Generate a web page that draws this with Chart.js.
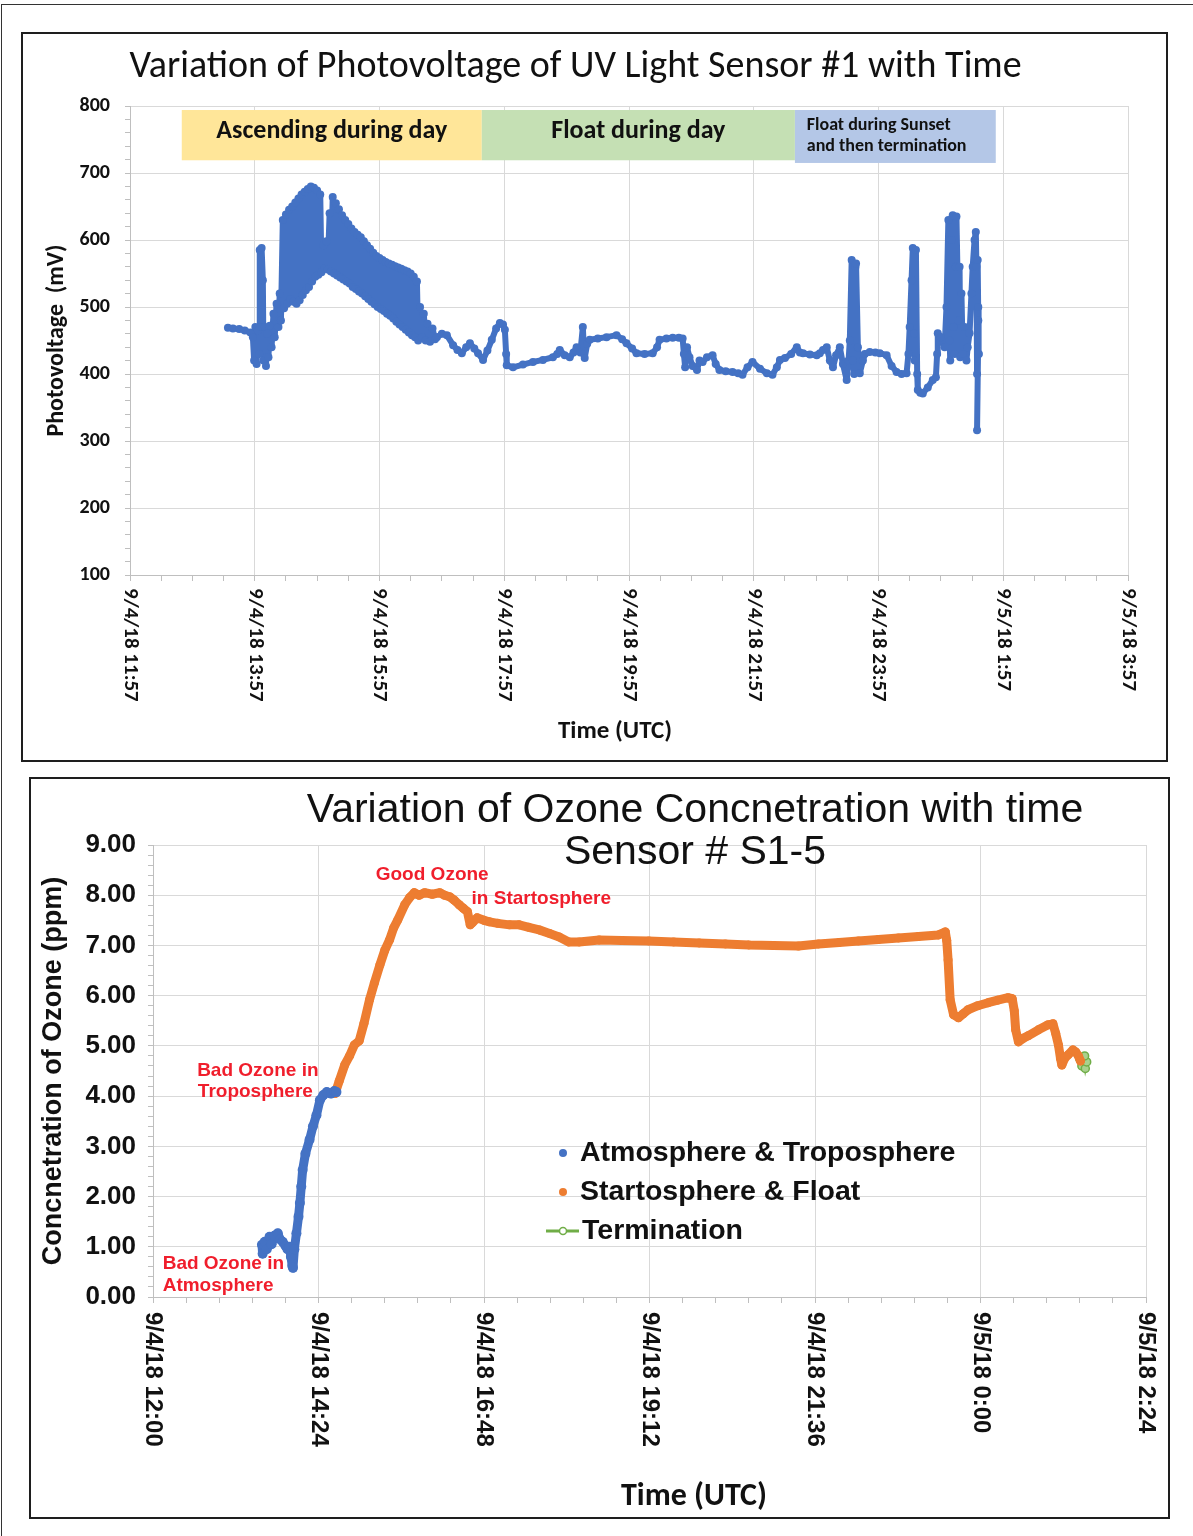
<!DOCTYPE html>
<html>
<head>
<meta charset="utf-8">
<title>UV photovoltage and ozone concentration</title>
<script src="https://cdn.jsdelivr.net/npm/chart.js@4.4.1/dist/chart.umd.min.js"></script>
<style>
body { margin: 0; width: 1193px; height: 1536px; background: #fff; position: relative; overflow: hidden; }
.sheet { position: absolute; left: 1px; top: 4px; right: 0; bottom: 0; border-top: 1px solid #333; border-left: 1px solid #333; }
.panel { position: absolute; border: 2px solid #1e1e1e; background: #fff; }
#panel1 { left: 21px; top: 32px; }
#panel2 { left: 29px; top: 777px; }
canvas { display: block; }
</style>
</head>
<body>
<div class="sheet"></div>
<div class="panel" id="panel1"><canvas id="pvChart" width="1143" height="726"></canvas></div>
<div class="panel" id="panel2"><canvas id="ozoneChart" width="1137" height="738"></canvas></div>
<script>
// ---- data: UV sensor #1 (time in hours of 9/4, values in mV) ----
var pvHours = [
    13.52, 13.60, 13.70, 13.79, 13.88, 13.92,
    13.94, 13.96, 13.98, 14.00, 14.02, 14.03, 14.05, 14.06, 14.08, 14.09, 14.11, 14.13, 14.15, 14.17, 14.19,
    14.22, 14.25, 14.27, 14.30, 14.33, 14.35, 14.37,
    14.40, 14.42, 14.45, 14.47, 14.50, 14.52, 14.55, 14.57, 14.60, 14.62, 14.65, 14.67, 14.70, 14.72, 14.75, 14.77, 14.80, 14.82, 14.85, 14.87,
    14.90, 14.92, 14.95, 14.97, 15.00, 15.02, 15.05, 15.07, 15.10, 15.12, 15.15, 15.17, 15.20, 15.22, 15.25, 15.27, 15.30, 15.32, 15.35, 15.37,
    15.40, 15.42, 15.45, 15.47, 15.50, 15.52, 15.55, 15.57, 15.60, 15.62, 15.65, 15.67, 15.70, 15.72, 15.75, 15.77, 15.80, 15.82, 15.85, 15.87,
    15.90, 15.92, 15.95, 15.97, 16.00, 16.02, 16.05, 16.07, 16.10, 16.12, 16.15, 16.17, 16.20, 16.22, 16.25, 16.27, 16.30, 16.32, 16.35, 16.37,
    16.40, 16.42, 16.45, 16.47, 16.50, 16.52, 16.55, 16.57,
    16.60, 16.63, 16.66, 16.69, 16.72, 16.76, 16.80, 16.84, 16.87, 16.95,
    17.03, 17.13, 17.20, 17.27, 17.34, 17.40, 17.47, 17.53, 17.61, 17.68,
    17.75, 17.82, 17.88, 17.93, 17.96, 17.98, 17.99, 18.09, 18.25, 18.41,
    18.57, 18.73, 18.80, 18.84, 18.92, 19.00, 19.06, 19.11, 19.17, 19.21,
    19.23, 19.24, 19.28, 19.32, 19.45, 19.59, 19.75, 19.84, 19.91, 20.00,
    20.07, 20.20, 20.33, 20.40, 20.44, 20.55, 20.65, 20.75, 20.81, 20.83,
    20.85, 20.88, 20.92, 20.97, 21.04, 21.08, 21.13, 21.20, 21.29, 21.34,
    21.40, 21.50, 21.61, 21.70, 21.77, 21.85, 21.93, 22.05, 22.16, 22.25,
    22.32, 22.37, 22.45, 22.55, 22.64, 22.69, 22.74, 22.85, 22.96, 23.01,
    23.06, 23.12, 23.17, 23.22, 23.27, 23.33, 23.38, 23.44, 23.47, 23.49,
    23.52, 23.54, 23.56, 23.58, 23.59, 23.62, 23.65, 23.70, 23.73, 23.81,
    23.90, 23.97, 24.08, 24.16, 24.24, 24.32, 24.40, 24.43, 24.45, 24.48,
    24.50, 24.52, 24.53, 24.55, 24.57, 24.58, 24.62, 24.66, 24.74, 24.82,
    24.87, 24.89, 24.90, 24.95, 25.01, 25.04, 25.07, 25.09, 25.10, 25.12,
    25.14, 25.15, 25.17, 25.19, 25.20, 25.23, 25.25, 25.26, 25.28, 25.30,
    25.33, 25.36, 25.38, 25.41, 25.44, 25.46, 25.49, 25.51, 25.52, 25.53,
    25.54, 25.55, 25.56, 25.55, 25.53
];
var pvMillivolts = [
    469, 468, 467, 465, 462, 455,
    420, 470, 415, 465, 430, 585, 470, 588, 540, 420, 470, 412, 460, 425, 472,
    440, 490, 455, 505, 470, 520, 480,
    630, 498, 638, 505, 645, 512, 650, 508, 656, 505, 662, 510, 668, 518, 672, 525, 676, 530, 680, 538,
    678, 545, 674, 548, 668, 552, 592, 558, 598, 556, 640, 553, 664, 550, 655, 547, 646, 544, 637, 541,
    630, 538, 624, 535, 617, 530, 612, 527, 608, 523, 604, 520, 598, 516, 592, 512, 587, 508, 581, 504,
    576, 500, 573, 497, 570, 494, 567, 490, 565, 487, 563, 483, 561, 478, 559, 474, 557, 470, 555, 466,
    553, 462, 550, 458, 545, 455, 538, 450,
    500, 455, 490, 450, 475, 448, 468, 452, 455, 460,
    458, 443, 436, 431, 440, 446, 438, 431, 421, 435,
    451, 468, 476, 474, 466, 430, 413, 410, 414, 418,
    421, 425, 430, 436, 428, 425, 432, 440, 432, 470,
    430, 424, 445, 451, 453, 455, 458, 452, 446, 438,
    431, 430, 431, 440, 451, 453, 454, 454, 453, 430,
    410, 440, 425, 412, 406, 420, 418, 425, 428, 415,
    406, 404, 403, 401, 399, 410, 418, 408, 401, 399,
    410, 421, 424, 430, 440, 432, 431, 429, 428, 431,
    436, 440, 420, 410, 428, 440, 415, 391, 420, 450,
    570, 420, 400, 560, 565, 440, 401, 420, 430, 433,
    432, 431, 428, 412, 403, 400, 401, 430, 470, 540,
    588, 460, 420, 585, 400, 376, 372, 371, 380, 391,
    395, 430, 461, 455, 440, 500, 630, 450, 420, 600,
    637, 470, 430, 560, 635, 480, 560, 425, 520, 430,
    470, 420, 440, 461, 520, 560, 600, 612, 560, 400,
    570, 480, 430, 500, 316
];
var pvTimeLabels = ['9/4/18 11:57', '9/4/18 13:57', '9/4/18 15:57', '9/4/18 17:57', '9/4/18 19:57',
    '9/4/18 21:57', '9/4/18 23:57', '9/5/18 1:57', '9/5/18 3:57'];
var phaseNames = ['Ascending during day', 'Float during day', 'Float during Sunset\nand then termination'];
var phaseStart = [12.78, 17.59, 22.61];
var phaseEnd = [17.59, 22.61, 25.83];

// ---- data: ozone sensor S1-5 (time in hours of 9/4, values in ppm) ----
var atmHours = [13.58, 13.59, 13.62, 13.65, 13.69, 13.72, 13.76, 13.81, 13.84, 13.88,
    13.92, 13.95, 13.98, 14.00, 14.02, 14.03, 14.05, 14.08, 14.11, 14.13,
    14.15, 14.17, 14.21, 14.27, 14.32, 14.37, 14.42, 14.47, 14.52, 14.58, 14.63, 14.66];
var atmPpm = [1.04, 0.86, 1.10, 0.95, 1.20, 1.05, 1.22, 1.27, 1.15, 1.10,
    1.02, 0.95, 1.00, 0.80, 0.62, 0.58, 0.95, 1.27, 1.60, 1.87,
    2.20, 2.53, 2.85, 3.13, 3.40, 3.62, 3.92, 4.02, 4.08, 4.05, 4.10, 4.08];
var stratHours = [14.64, 14.70, 14.78, 14.85, 14.92, 14.99, 15.06, 15.14, 15.21, 15.29,
    15.36, 15.43, 15.49, 15.55, 15.65, 15.72, 15.79, 15.86, 15.94, 16.05,
    16.16, 16.23, 16.30, 16.37, 16.44, 16.50, 16.56, 16.60, 16.63, 16.70,
    16.80, 16.88, 17.00, 17.17, 17.31, 17.45, 17.60, 17.75, 17.89, 18.03,
    18.18, 18.47, 18.80, 19.19, 19.55, 19.92, 20.30, 20.64, 21.00, 21.36,
    21.65, 21.95, 22.23, 22.52, 22.81, 23.10, 23.39, 23.49, 23.51, 23.53,
    23.56, 23.61, 23.68, 23.75, 23.82, 23.96, 24.11, 24.25, 24.40, 24.46,
    24.49, 24.51, 24.55, 24.62, 24.69, 24.84, 24.98, 25.05, 25.09, 25.13,
    25.16, 25.18, 25.22, 25.27, 25.34, 25.38, 25.42, 25.45];
var stratPpm = [4.05, 4.30, 4.62, 4.80, 5.02, 5.10, 5.45, 5.92, 6.25, 6.61,
    6.90, 7.11, 7.35, 7.51, 7.81, 7.95, 8.05, 8.00, 8.05, 8.02,
    8.05, 8.00, 7.97, 7.90, 7.81, 7.74, 7.67, 7.41, 7.45, 7.55,
    7.50, 7.47, 7.44, 7.41, 7.41, 7.36, 7.31, 7.24, 7.17, 7.07,
    7.07, 7.11, 7.10, 7.09, 7.07, 7.05, 7.03, 7.01, 7.00, 6.99,
    7.03, 7.06, 7.09, 7.12, 7.15, 7.18, 7.21, 7.27, 7.10, 6.71,
    5.92, 5.62, 5.56, 5.64, 5.72, 5.80, 5.86, 5.91, 5.96, 5.94,
    5.70, 5.32, 5.08, 5.15, 5.20, 5.32, 5.42, 5.44, 5.25, 5.02,
    4.75, 4.62, 4.75, 4.82, 4.92, 4.88, 4.80, 4.70];
var termHours = [25.44, 25.47, 25.50, 25.52, 25.54, 25.51];
var termPpm = [4.74, 4.60, 4.72, 4.55, 4.68, 4.80];
var ozoneTimeLabels = ['9/4/18 12:00', '9/4/18 14:24', '9/4/18 16:48', '9/4/18 19:12',
    '9/4/18 21:36', '9/5/18 0:00', '9/5/18 2:24'];

// ---- styles ----
var CALIBRI = 'Carlito, Lato, "Open Sans", sans-serif';
var ARIAL = '"Liberation Sans", Arial, sans-serif';
var GRID = '#d9d9d9';
var AXIS = '#bfbfbf';
var NONE = 'rgba(0,0,0,0)';
var BLUE = '#4472C4';
var ORANGE = '#ED7D31';
var GREEN = '#70AD47';
var RED = '#f01e2c';

function points(xs, ys) {
    return xs.map(function (x, i) { return { x: x, y: ys[i] }; });
}

// evenly spaced ticks starting at the axis minimum (e.g. 11:57, 12:27 ...)
function tickEvery(step) {
    return function (scale) {
        var ticks = [];
        for (var v = scale.min; v <= scale.max + 1e-6; v += step) ticks.push({ value: v });
        scale.ticks = ticks;
    };
}

function isWhole(v) { return Math.abs(v - Math.round(v)) < 1e-6; }

// excel style date labels, rotated to read top to bottom
var timeAxisLabels = {
    id: 'timeAxisLabels',
    afterDraw: function (chart, args, o) {
        var ctx = chart.ctx, x = chart.scales.x;
        ctx.save();
        ctx.fillStyle = o.color;
        ctx.font = o.font;
        ctx.textAlign = 'left';
        ctx.textBaseline = 'middle';
        x.ticks.forEach(function (t, i) {
            if (i % o.every) return;
            ctx.save();
            ctx.translate(x.getPixelForValue(t.value), x.top + o.gap);
            ctx.rotate(Math.PI / 2);
            ctx.fillText(o.labels[i / o.every], 0, 0);
            ctx.restore();
        });
        ctx.font = o.titleFont;
        ctx.textAlign = 'center';
        ctx.fillText(o.title, chart.chartArea.left + o.titleX, x.top + o.titleY);
        ctx.restore();
    }
};

var phaseBands = {
    id: 'phaseBands',
    beforeDatasetsDraw: function (chart, args, o) {
        var ctx = chart.ctx, x = chart.scales.x, y = chart.scales.y;
        ctx.save();
        phaseNames.forEach(function (name, i) {
            var l = x.getPixelForValue(phaseStart[i]), r = x.getPixelForValue(phaseEnd[i]);
            var t = y.getPixelForValue(o.top), b = y.getPixelForValue(o.bottom[i]);
            ctx.fillStyle = o.colors[i];
            ctx.fillRect(l, t, r - l, b - t);
            ctx.fillStyle = '#111';
            ctx.textBaseline = 'middle';
            var lines = name.split('\n');
            if (lines.length === 1) {
                ctx.font = o.font;
                ctx.textAlign = 'center';
                ctx.fillText(name, (l + r) / 2, y.getPixelForValue(o.textY));
            } else {
                ctx.font = o.smallFont;
                ctx.textAlign = 'left';
                lines.forEach(function (line, k) {
                    ctx.fillText(line, x.getPixelForValue(o.smallX), y.getPixelForValue(o.smallY[k]));
                });
            }
        });
        ctx.restore();
    }
};

var pvChart = new Chart(document.getElementById('pvChart'), {
    type: 'scatter',
    data: {
        datasets: [{
            label: 'UV Light Sensor #1',
            data: points(pvHours, pvMillivolts),
            showLine: true,
            borderColor: BLUE,
            backgroundColor: BLUE,
            borderWidth: 6,
            borderJoinStyle: 'round',
            borderCapStyle: 'round',
            pointRadius: 4,
            pointBorderWidth: 0,
            pointHoverRadius: 4
        }]
    },
    options: {
        responsive: false,
        animation: false,
        layout: { autoPadding: false, padding: { left: 0, right: 38, top: 0, bottom: 0 } },
        plugins: {
            legend: { display: false },
            tooltip: { enabled: false },
            title: {
                display: true,
                text: 'Variation of Photovoltage of UV Light Sensor #1 with Time',
                color: '#111',
                font: { family: CALIBRI, size: 38, weight: 'normal', lineHeight: 1.2 },
                padding: { top: 11, bottom: 15.4 }
            },
            phaseBands: {
                top: 794, bottom: [719, 719, 715],
                colors: ['#FFE699', '#C5E0B4', '#B4C7E7'],
                font: 'bold 26px ' + CALIBRI, textY: 762,
                smallFont: 'bold 18px ' + CALIBRI, smallX: 22.8, smallY: [771.5, 739]
            },
            timeAxisLabels: {
                labels: pvTimeLabels, every: 4, gap: 13, color: '#111',
                font: 'bold 21px ' + CALIBRI,
                title: 'Time (UTC)', titleFont: 'bold 25px ' + CALIBRI, titleX: 485, titleY: 157
            }
        },
        scales: {
            x: {
                type: 'linear', min: 11.95, max: 27.95,
                afterBuildTicks: tickEvery(0.5),
                afterFit: function (s) { s.height = 185; },
                ticks: { display: false },
                grid: {
                    color: function (c) { return c.index % 4 === 0 ? GRID : NONE; },
                    tickColor: AXIS, tickLength: 6
                },
                border: { color: AXIS }
            },
            y: {
                min: 100, max: 800,
                afterFit: function (s) { s.width = 107; },
                ticks: {
                    stepSize: 20, autoSkip: false, padding: 15, color: '#111',
                    font: { family: CALIBRI, size: 20, weight: 'bold' },
                    callback: function (v) { return v % 100 === 0 ? v : ''; }
                },
                grid: {
                    color: function (c) { return c.tick && c.tick.value % 100 === 0 ? GRID : NONE; },
                    tickColor: AXIS, tickLength: 5
                },
                border: { color: AXIS },
                title: {
                    display: true, text: 'Photovoltage  (mV)', color: '#111',
                    font: { family: CALIBRI, size: 24, weight: 'bold', lineHeight: 1.2 },
                    padding: { top: 20 }
                }
            }
        }
    },
    plugins: [phaseBands, timeAxisLabels]
});

// ---- ozone chart ----
var stackedTitle = {
    id: 'stackedTitle',
    afterDraw: function (chart, args, o) {
        var ctx = chart.ctx;
        ctx.save();
        ctx.font = o.font;
        ctx.fillStyle = '#111';
        ctx.textAlign = 'center';
        ctx.textBaseline = 'middle';
        o.lines.forEach(function (line, i) { ctx.fillText(line, o.x, o.y + i * o.gap); });
        ctx.restore();
    }
};

var zoneNotes = {
    id: 'zoneNotes',
    afterDatasetsDraw: function (chart, args, o) {
        var ctx = chart.ctx, x = chart.scales.x, y = chart.scales.y;
        ctx.save();
        ctx.font = o.font;
        ctx.fillStyle = o.color;
        ctx.textAlign = 'left';
        ctx.textBaseline = 'middle';
        o.notes.forEach(function (n) {
            ctx.fillText(n.text, x.getPixelForValue(n.x), y.getPixelForValue(n.y));
        });
        ctx.restore();
    }
};

var insideLegend = {
    id: 'insideLegend',
    afterDraw: function (chart, args, o) {
        var ctx = chart.ctx, area = chart.chartArea;
        ctx.save();
        ctx.font = o.font;
        ctx.textBaseline = 'middle';
        ctx.textAlign = 'left';
        chart.data.datasets.forEach(function (ds, i) {
            var cy = area.top + o.top + i * o.rowGap;
            var cx = area.left + o.left;
            if (ds.legendMarker === 'line') {
                ctx.strokeStyle = ds.borderColor;
                ctx.lineWidth = 3;
                ctx.beginPath();
                ctx.moveTo(cx - 17, cy);
                ctx.lineTo(cx + 16, cy);
                ctx.stroke();
                ctx.fillStyle = '#fff';
                ctx.lineWidth = 1.5;
                ctx.beginPath();
                ctx.arc(cx, cy, 3.5, 0, Math.PI * 2);
                ctx.fill();
                ctx.stroke();
                ctx.fillStyle = '#111';
                ctx.fillText(ds.label, cx + 19, cy);
            } else {
                ctx.fillStyle = ds.backgroundColor;
                ctx.beginPath();
                ctx.arc(cx, cy, 4, 0, Math.PI * 2);
                ctx.fill();
                ctx.fillStyle = '#111';
                ctx.fillText(ds.label, cx + 17, cy);
            }
        });
        ctx.restore();
    }
};

var ozoneChart = new Chart(document.getElementById('ozoneChart'), {
    type: 'scatter',
    data: {
        datasets: [{
            label: 'Atmosphere & Troposphere',
            data: points(atmHours, atmPpm),
            showLine: true,
            borderColor: BLUE, backgroundColor: BLUE,
            borderWidth: 9, borderJoinStyle: 'round', borderCapStyle: 'round',
            pointRadius: 5, pointBorderWidth: 0
        }, {
            label: 'Startosphere & Float',
            data: points(stratHours, stratPpm),
            showLine: true,
            borderColor: ORANGE, backgroundColor: ORANGE,
            borderWidth: 9, borderJoinStyle: 'round', borderCapStyle: 'round',
            pointRadius: 4.5, pointBorderWidth: 0
        }, {
            label: 'Termination',
            legendMarker: 'line',
            data: points(termHours, termPpm),
            showLine: true,
            borderColor: GREEN, backgroundColor: '#A9D18E',
            borderWidth: 3, pointRadius: 4, pointBorderWidth: 1.5, pointBorderColor: GREEN
        }]
    },
    options: {
        responsive: false,
        animation: false,
        layout: { autoPadding: false, padding: { left: 0, right: 22, top: 66, bottom: 0 } },
        plugins: {
            legend: { display: false },
            tooltip: { enabled: false },
            stackedTitle: {
                lines: ['Variation of Ozone Concnetration with time', 'Sensor # S1-5'],
                font: '41px ' + ARIAL, x: 664, y: 32, gap: 42
            },
            zoneNotes: {
                font: 'bold 19px ' + ARIAL, color: RED,
                notes: [
                    { text: 'Good Ozone', x: 15.23, y: 8.41 },
                    { text: 'in Startosphere', x: 16.62, y: 7.93 },
                    { text: 'Bad Ozone in', x: 12.64, y: 4.50 },
                    { text: 'Troposphere', x: 12.65, y: 4.08 },
                    { text: 'Bad Ozone in', x: 12.14, y: 0.66 },
                    { text: 'Atmosphere', x: 12.14, y: 0.22 }
                ]
            },
            insideLegend: { font: 'bold 28.5px ' + ARIAL, left: 410, top: 308, rowGap: 39 },
            timeAxisLabels: {
                labels: ozoneTimeLabels, every: 5, gap: 15, color: '#111',
                font: 'bold 24px ' + ARIAL,
                title: 'Time (UTC)', titleFont: 'bold 32px ' + CALIBRI, titleX: 541, titleY: 200
            }
        },
        scales: {
            x: {
                type: 'linear', min: 12, max: 26.4,
                afterBuildTicks: tickEvery(0.48),
                afterFit: function (s) { s.height = 220; },
                ticks: { display: false },
                grid: {
                    color: function (c) { return c.index % 5 === 0 ? GRID : NONE; },
                    tickColor: AXIS, tickLength: 6
                },
                border: { color: AXIS }
            },
            y: {
                min: 0, max: 9,
                afterFit: function (s) { s.width = 122; },
                ticks: {
                    stepSize: 0.2, autoSkip: false, padding: 12, color: '#111',
                    font: { family: ARIAL, size: 26, weight: 'bold' },
                    callback: function (v) { return isWhole(v) ? v.toFixed(2) : ''; }
                },
                grid: {
                    color: function (c) { return c.tick && isWhole(c.tick.value) ? GRID : NONE; },
                    tickColor: AXIS, tickLength: 5
                },
                border: { color: AXIS },
                title: {
                    display: true, text: 'Concnetration of Ozone (ppm)', color: '#111',
                    font: { family: ARIAL, size: 27, weight: 'bold', lineHeight: 1.2 },
                    padding: { top: 6 }
                }
            }
        }
    },
    plugins: [stackedTitle, zoneNotes, insideLegend, timeAxisLabels]
});
</script>
</body>
</html>
